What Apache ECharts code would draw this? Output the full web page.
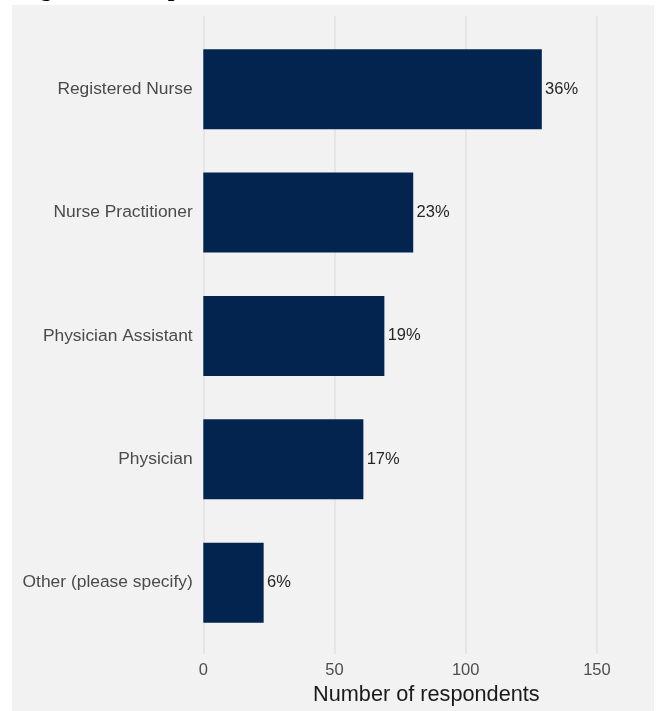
<!DOCTYPE html>
<html>
<head>
<meta charset="utf-8">
<script src="https://cdn.jsdelivr.net/npm/echarts@6/dist/echarts.min.js"></script>
<style>
  html, body { margin: 0; padding: 0; background: #ffffff; }
  #chart { width: 658px; height: 711px; }
</style>
</head>
<body>
<div id="chart"></div>
<script>
// Respondent roles: counts drawn as bars, share shown as label
const categories = ['Registered Nurse', 'Nurse Practitioner', 'Physician Assistant', 'Physician', 'Other (please specify)'];
const counts = [129, 80, 69, 61, 23];
const shareLabels = ['36%', '23%', '19%', '17%', '6%'];
const tickValues = [0, 50, 100, 150];
const axisMax = 170;

const plotLeft = 203.3;
const plotWidth = 446.1;
const font = 'Liberation Sans, Arial, Helvetica, sans-serif';

const chart = echarts.init(document.getElementById('chart'), null, { renderer: 'canvas' });

chart.setOption({
  backgroundColor: '#ffffff',
  animation: false,
  graphic: [
    {
      type: 'rect',
      z: -10,
      shape: { x: 12, y: 5, width: 642, height: 706 },
      style: { fill: '#f2f2f2' },
      silent: true
    },
    {
      type: 'text',
      z: 10,
      x: 19,
      y: -10.5,
      style: {
        text: 'Figure 12: Respondent role',
        font: 'bold 24px "Liberation Serif", "Times New Roman", serif',
        fill: '#000000',
        verticalAlign: 'middle'
      },
      silent: true
    }
  ],
  grid: [
    { left: plotLeft, top: 16, height: 640.7, width: plotWidth },
    { left: plotLeft, top: 27.6, height: 616.7, width: plotWidth }
  ],
  xAxis: [
    {
      gridIndex: 0,
      type: 'value',
      min: 0,
      max: axisMax,
      interval: 50,
      axisLine: { show: false },
      axisTick: { show: false },
      splitLine: { show: false },
      axisLabel: {
        show: true,
        showMaxLabel: false,
        fontFamily: font,
        fontSize: 16.5,
        color: '#4d4d4d',
        margin: 8
      },
      name: 'Number of respondents',
      nameLocation: 'middle',
      nameGap: 27,
      nameTextStyle: { fontFamily: font, fontSize: 21.7, color: '#1a1a1a' }
    },
    {
      gridIndex: 1,
      type: 'value',
      min: 0,
      max: axisMax,
      show: false
    }
  ],
  yAxis: [
    {
      gridIndex: 0,
      type: 'value',
      min: 0,
      max: 1,
      show: false
    },
    {
      gridIndex: 1,
      type: 'category',
      inverse: true,
      data: categories,
      axisLine: { show: false },
      axisTick: { show: false },
      splitLine: { show: false },
      axisLabel: {
        fontFamily: font,
        fontSize: 17.4,
        color: '#4a4a4a',
        margin: 10.6
      }
    }
  ],
  series: [
    {
      // vertical reference lines at each tick value, kept beneath the bars
      type: 'line',
      xAxisIndex: 0,
      yAxisIndex: 0,
      data: [],
      silent: true,
      z: 1,
      markLine: {
        z: 1,
        silent: true,
        symbol: ['none', 'none'],
        label: { show: false },
        lineStyle: { color: '#e2e2e2', width: 1.6, type: 'solid' },
        emphasis: { disabled: true },
        data: tickValues.map(v => ({ xAxis: v }))
      }
    },
    {
      type: 'bar',
      xAxisIndex: 1,
      yAxisIndex: 1,
      data: counts,
      barWidth: 80,
      z: 3,
      itemStyle: { color: '#02244f' },
      label: {
        show: true,
        position: 'right',
        distance: 3.3,
        fontFamily: font,
        fontSize: 16.5,
        color: '#262626',
        formatter: p => shareLabels[p.dataIndex]
      }
    }
  ]
});
</script>
</body>
</html>
